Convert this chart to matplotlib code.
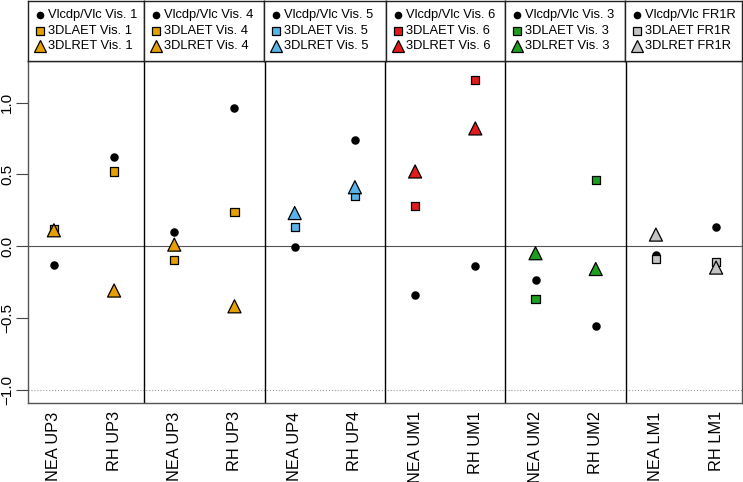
import matplotlib
matplotlib.use('Agg')
import matplotlib.pyplot as plt

plt.rcParams['font.family'] = ['Liberation Sans', 'DejaVu Sans']

# x categories (two per panel)
labels = ['NEA UP3', 'RH UP3', 'NEA UP3', 'RH UP3', 'NEA UP4', 'RH UP4',
          'NEA UM1', 'RH UM1', 'NEA UM2', 'RH UM2', 'NEA LM1', 'RH LM1']

# values
vlcdp = [-0.13, 0.62, 0.10, 0.96, -0.01, 0.74, -0.34, -0.14, -0.24, -0.56, -0.06, 0.13]
laet = [0.12, 0.52, -0.10, 0.24, 0.13, 0.35, 0.28, 1.16, -0.37, 0.46, -0.09, -0.11]
lret = [0.11, -0.31, 0.01, -0.42, 0.23, 0.41, 0.52, 0.82, -0.05, -0.16, 0.08, -0.15]

panel_names = ['Vis. 1', 'Vis. 4', 'Vis. 5', 'Vis. 6', 'Vis. 3', 'FR1R']
panel_colors = ['#E69F00', '#E69F00', '#56B4E9', '#E31A1C', '#1E9E1E', '#C4C4C4']

yticks = [-1.0, -0.5, 0.0, 0.5, 1.0]

W, H = 743, 482
fig = plt.figure(figsize=(W / 100, H / 100), dpi=100)

left, right, top, bottom = 28, 742, 61, 403
ax = fig.add_axes([left / W, 1 - bottom / H, (right - left) / W, (bottom - top) / H])

x = list(range(1, len(labels) + 1))
ax.set_xlim(0.57, 12.43)
ax.set_ylim(-1.094, 1.29)

ax.axhline(0, color='#555555', lw=0.8, zorder=1)
ax.axhline(-1, color='#999999', lw=0.8, ls=':', zorder=1)
for k in range(1, 6):
    ax.axvline(2 * k + 0.5, color='black', lw=1.0, zorder=1)

cols = [panel_colors[i // 2] for i in range(len(x))]
ax.scatter(x, vlcdp, s=26, marker='o', color='black', zorder=3)
ax.scatter(x, laet, s=34, marker='s', c=cols, edgecolors='black', linewidths=0.9, zorder=4)
ax.scatter(x, lret, s=88, marker='^', c=cols, edgecolors='black', linewidths=0.9, zorder=5)

ax.set_xticks(x)
ax.set_xticklabels(labels, rotation=90, fontsize=11.8)
ax.tick_params(axis='x', length=0, pad=6)
ax.set_yticks(yticks)
ax.set_yticklabels([('%.1f' % v).replace('-', '\u2212') for v in yticks],
                   rotation=90, va='center', fontsize=11)
ax.tick_params(axis='y', length=8.5, width=0.8, pad=1.5, color='#444444')
for s in ax.spines.values():
    s.set_color('#555555')
    s.set_linewidth(1.0)

# legend boxes above each panel
edges = [left, 144, 264, 386, 505, 625, right]
for i, name in enumerate(panel_names):
    x0, x1 = edges[i], edges[i + 1]
    lax = fig.add_axes([x0 / W, 1 - top / H, (x1 - x0) / W, (top - 1) / H])
    lax.set_xlim(0, x1 - x0)
    lax.set_ylim(top - 1, 0)
    lax.set_xticks([])
    lax.set_yticks([])
    for s in lax.spines.values():
        s.set_color('#222222')
        s.set_linewidth(1.0)
    c = panel_colors[i]
    entries = ['Vlcdp/Vlc ' + name, '3DLAET ' + name, '3DLRET ' + name]
    rows = [14, 30, 45]
    lax.plot(11.5, rows[0], 'o', color='black', ms=4.5)
    lax.plot(11.5, rows[1], 's', color=c, mec='black', mew=0.9, ms=5.5)
    lax.plot(11.5, rows[2], '^', color=c, mec='black', mew=0.9, ms=9)
    for r, t in zip(rows, entries):
        lax.text(20, r, t, va='center', ha='left', fontsize=9.3)

fig.savefig('out.png', dpi=100)
